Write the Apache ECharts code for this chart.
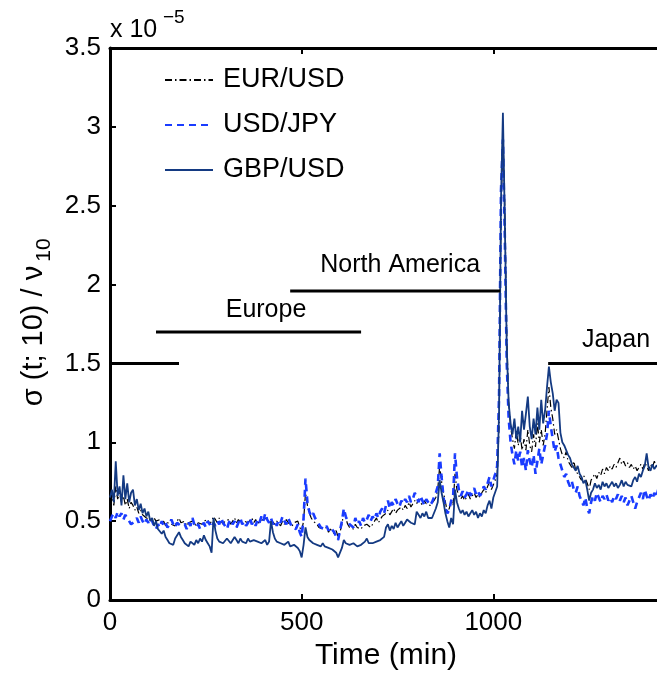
<!DOCTYPE html>
<html>
<head>
<meta charset="utf-8">
<script src="https://cdn.jsdelivr.net/npm/echarts@6/dist/echarts.min.js"></script>
<style>
html,body{margin:0;padding:0;background:#fff;}
#chart{width:657px;height:673px;}
</style>
</head>
<body>
<div id="chart"></div>
<script>
// ---- data (values in units of 1e-5) ----
const TIME_STEP = 5; // minutes between samples
const eurUsd = [
 0.62,0.66,0.60,0.72,0.64,0.68,0.62,0.66,0.60,0.64,0.58,0.62,
 0.60,0.57,0.59,0.55,0.57,0.54,0.55,0.52,0.53,0.51,0.50,0.52,
 0.50,0.49,0.51,0.48,0.50,0.47,0.49,0.50,0.48,0.49,0.47,0.50,
 0.52,0.49,0.48,0.50,0.47,0.49,0.48,0.50,0.49,0.47,0.49,0.50,
 0.48,0.50,0.49,0.51,0.48,0.50,0.53,0.51,0.49,0.52,0.50,0.48,
 0.50,0.49,0.51,0.48,0.50,0.52,0.49,0.51,0.50,0.48,0.50,0.51,
 0.49,0.50,0.52,0.49,0.51,0.48,0.50,0.49,0.51,0.50,0.52,0.49,
 0.51,0.50,0.48,0.50,0.49,0.47,0.50,0.48,0.51,0.49,0.48,0.47,
 0.49,0.48,0.50,0.46,0.44,0.50,0.68,0.60,0.55,0.52,0.50,0.49,
 0.48,0.46,0.47,0.45,0.44,0.46,0.43,0.45,0.44,0.42,0.44,0.40,
 0.43,0.48,0.56,0.52,0.48,0.46,0.47,0.45,0.48,0.46,0.47,0.45,
 0.47,0.46,0.48,0.47,0.46,0.48,0.50,0.52,0.49,0.51,0.53,0.52,
 0.55,0.57,0.54,0.56,0.58,0.55,0.57,0.56,0.59,0.57,0.60,0.58,
 0.62,0.59,0.60,0.63,0.61,0.64,0.62,0.60,0.63,0.61,0.62,0.60,
 0.61,0.63,0.65,0.70,0.85,0.75,0.68,0.62,0.56,0.58,0.63,0.60,
 0.80,0.70,0.66,0.64,0.66,0.63,0.65,0.67,0.64,0.66,0.68,0.65,
 0.67,0.65,0.68,0.70,0.68,0.72,0.75,0.70,0.73,0.76,0.80,1.10,
 2.40,2.95,2.50,1.70,1.25,1.10,1.02,0.96,1.08,0.98,1.05,0.95,
 1.02,0.95,1.08,0.98,0.94,1.05,0.97,1.12,1.00,1.08,0.98,1.05,
 1.20,1.35,1.22,1.15,1.05,1.08,1.02,0.96,0.92,0.90,0.94,0.88,
 0.86,0.84,0.88,0.82,0.80,0.78,0.76,0.79,0.77,0.74,0.70,0.76,
 0.78,0.80,0.77,0.81,0.79,0.83,0.80,0.84,0.82,0.85,0.83,0.86,
 0.84,0.87,0.90,0.86,0.88,0.85,0.87,0.84,0.86,0.83,0.85,0.82,
 0.84,0.86,0.83,0.87,0.85,0.82,0.86,0.84,0.88,0.85,0.83,0.86,
 0.85
];
const usdJpy = [
 0.50,0.53,0.55,0.52,0.56,0.53,0.55,0.51,0.54,0.52,0.50,0.48,
 0.47,0.50,0.52,0.49,0.53,0.50,0.48,0.51,0.49,0.52,0.50,0.47,
 0.45,0.48,0.46,0.50,0.47,0.49,0.46,0.48,0.51,0.48,0.46,0.49,
 0.50,0.47,0.46,0.48,0.45,0.49,0.47,0.52,0.48,0.46,0.48,0.45,
 0.47,0.49,0.46,0.50,0.48,0.46,0.49,0.47,0.50,0.48,0.52,0.49,
 0.47,0.45,0.49,0.51,0.48,0.50,0.46,0.49,0.52,0.48,0.50,0.47,
 0.49,0.52,0.48,0.50,0.47,0.51,0.49,0.53,0.50,0.55,0.51,0.49,
 0.52,0.48,0.50,0.47,0.51,0.49,0.53,0.50,0.48,0.52,0.49,0.46,
 0.47,0.45,0.48,0.43,0.40,0.52,0.77,0.62,0.56,0.53,0.55,0.52,
 0.50,0.48,0.46,0.47,0.45,0.47,0.44,0.46,0.45,0.43,0.40,0.38,
 0.44,0.50,0.58,0.53,0.50,0.48,0.49,0.46,0.52,0.48,0.50,0.47,
 0.52,0.49,0.51,0.54,0.50,0.53,0.51,0.55,0.52,0.56,0.58,0.55,
 0.60,0.63,0.58,0.62,0.60,0.64,0.61,0.59,0.63,0.61,0.64,0.62,
 0.66,0.62,0.64,0.68,0.65,0.62,0.66,0.63,0.60,0.64,0.62,0.60,
 0.62,0.65,0.68,0.72,0.93,0.78,0.65,0.58,0.55,0.57,0.63,0.65,
 0.93,0.78,0.70,0.66,0.69,0.65,0.67,0.70,0.66,0.68,0.71,0.67,
 0.69,0.66,0.68,0.72,0.70,0.74,0.78,0.72,0.76,0.80,0.85,1.30,
 2.60,2.92,2.30,1.50,1.15,1.00,0.92,0.86,0.95,0.88,0.94,0.84,
 0.90,0.82,0.95,0.88,0.84,0.92,0.80,0.88,0.96,0.86,0.92,0.98,
 1.05,1.20,1.10,1.02,0.94,0.98,0.90,0.86,0.82,0.78,0.80,0.75,
 0.72,0.75,0.70,0.68,0.72,0.66,0.63,0.60,0.65,0.58,0.55,0.62,
 0.66,0.63,0.68,0.65,0.62,0.66,0.64,0.67,0.63,0.65,0.62,0.66,
 0.64,0.67,0.63,0.66,0.62,0.65,0.60,0.63,0.66,0.62,0.58,0.62,
 0.65,0.68,0.64,0.70,0.66,0.63,0.67,0.64,0.68,0.65,0.70,0.66,
 0.67
];
const gbpUsd = [
 0.65,0.70,0.62,0.88,0.66,0.72,0.60,0.79,0.64,0.74,0.62,0.68,
 0.70,0.60,0.64,0.57,0.61,0.55,0.58,0.53,0.56,0.50,0.52,0.47,
 0.50,0.45,0.46,0.42,0.44,0.40,0.38,0.36,0.37,0.35,0.39,0.38,
 0.43,0.40,0.38,0.36,0.35,0.34,0.37,0.36,0.35,0.38,0.36,0.39,
 0.37,0.41,0.38,0.36,0.34,0.30,0.52,0.44,0.39,0.37,0.38,0.36,
 0.37,0.39,0.38,0.36,0.37,0.40,0.38,0.36,0.39,0.37,0.38,0.36,
 0.39,0.37,0.36,0.38,0.39,0.37,0.38,0.36,0.37,0.38,0.35,0.37,
 0.50,0.43,0.39,0.37,0.38,0.36,0.37,0.35,0.36,0.37,0.34,0.35,
 0.35,0.34,0.33,0.31,0.27,0.35,0.46,0.40,0.38,0.37,0.36,0.37,
 0.35,0.36,0.34,0.36,0.34,0.35,0.33,0.34,0.32,0.31,0.30,0.27,
 0.26,0.33,0.38,0.36,0.37,0.35,0.34,0.36,0.35,0.34,0.33,0.35,
 0.35,0.37,0.39,0.36,0.37,0.36,0.35,0.37,0.36,0.38,0.37,0.40,
 0.46,0.48,0.44,0.47,0.45,0.49,0.46,0.48,0.50,0.47,0.49,0.51,
 0.52,0.49,0.50,0.48,0.56,0.54,0.52,0.55,0.53,0.56,0.52,0.51,
 0.52,0.55,0.58,0.62,0.76,0.68,0.62,0.55,0.50,0.46,0.52,0.48,
 0.70,0.62,0.58,0.55,0.57,0.54,0.56,0.53,0.55,0.57,0.54,0.56,
 0.52,0.55,0.53,0.57,0.55,0.60,0.63,0.58,0.65,0.66,0.72,1.20,
 2.54,3.09,2.40,1.60,1.25,1.12,1.05,1.15,1.02,1.10,1.00,1.20,
 1.08,1.18,1.29,1.10,1.02,1.15,1.05,1.22,1.08,1.27,1.12,1.20,
 1.35,1.48,1.38,1.31,1.20,1.27,1.25,1.06,1.00,0.98,0.95,0.92,
 0.90,0.86,0.84,0.82,0.85,0.80,0.78,0.74,0.76,0.70,0.63,0.68,
 0.70,0.74,0.71,0.73,0.70,0.75,0.72,0.74,0.71,0.73,0.75,0.72,
 0.74,0.71,0.73,0.76,0.72,0.75,0.73,0.74,0.72,0.76,0.78,0.75,
 0.80,0.78,0.82,0.85,0.93,0.84,0.82,0.86,0.83,0.85,0.84,0.86,
 0.85
];
// trading sessions
const sessionNames = ['', 'Europe', 'North America', 'Japan'];
const sessionStart = [0, 120, 470, 1143];
const sessionEnd   = [180, 655, 1018, 1440];
const sessionLevel = [1.5, 1.7, 1.96, 1.5];
const sessionLabelTime  = [null, 407, 757, 1320];
const sessionLabelLevel = [null, 1.84, 2.125, 1.65];
// axis ticks
const xTicks = [0, 500, 1000];
const yTicks = [0, 0.5, 1, 1.5, 2, 2.5, 3, 3.5];

const FONT = 'Liberation Sans, Arial, Helvetica, sans-serif';
const pairs = arr => arr.map((v, i) => [i * TIME_STEP, v]);

const series = [
  {
    name: 'EUR/USD', type: 'line', data: pairs(eurUsd), symbol: 'none', z: 3,
    lineStyle: { color: '#000000', width: 1.2, type: [7, 3, 1.5, 3] },
    itemStyle: { color: '#000000' }
  },
  {
    name: 'USD/JPY', type: 'line', data: pairs(usdJpy), symbol: 'none', z: 4,
    lineStyle: { color: '#1a3cff', width: 2.6, type: [7, 5] },
    itemStyle: { color: '#1a3cff' }
  },
  {
    name: 'GBP/USD', type: 'line', data: pairs(gbpUsd), symbol: 'none', z: 5,
    lineStyle: { color: '#143a82', width: 1.8, type: 'solid' },
    itemStyle: { color: '#143a82' }
  }
];
sessionNames.forEach((n, i) => {
  series.push({
    type: 'line', symbol: 'none', silent: true, z: 6,
    data: [[sessionStart[i], sessionLevel[i]], [sessionEnd[i], sessionLevel[i]]],
    lineStyle: { color: '#000', width: 3 }
  });
});
series.push({
  type: 'scatter', symbolSize: 0, silent: true, z: 7,
  itemStyle: { opacity: 1 },
  data: sessionNames.map((n, i) => ({ value: [sessionLabelTime[i], sessionLabelLevel[i]], name: n }))
    .filter(d => d.name),
  label: {
    show: true, position: 'inside', formatter: p => p.name, opacity: 1,
    color: '#000', fontSize: 25, fontFamily: FONT
  }
});

const chart = echarts.init(document.getElementById('chart'), null, { renderer: 'canvas' });
chart.setOption({
  animation: false,
  backgroundColor: '#fff',
  grid: { left: 110, top: 48, bottom: 73, right: -5, containLabel: false, outerBoundsMode: 'none' },
  legend: {
    data: ['EUR/USD', 'USD/JPY', 'GBP/USD'],
    orient: 'vertical', left: 164, top: 65, padding: 0,
    itemWidth: 48, itemHeight: 1, itemGap: 15,
    itemStyle: { opacity: 0 },
    textStyle: { fontSize: 27, fontFamily: FONT, color: '#000', lineHeight: 30, padding: [0, 0, 0, 5] },
    selectedMode: false
  },
  xAxis: [
    {
      type: 'value', min: 0, max: 1440, interval: 500, position: 'bottom',
      axisLine: { show: true, onZero: false, lineStyle: { color: '#000', width: 3 } },
      axisTick: { show: true, inside: true, length: 6, lineStyle: { color: '#000', width: 2 }, customValues: xTicks },
      axisLabel: { fontSize: 26, fontFamily: FONT, color: '#000', margin: 10, customValues: xTicks,
        formatter: v => String(v) },
      splitLine: { show: false },
      name: 'Time (min)', nameLocation: 'middle', nameGap: 38,
      nameTextStyle: { fontSize: 30, fontFamily: FONT, color: '#000' }
    },
    {
      type: 'value', min: 0, max: 1440, interval: 500, position: 'top',
      axisLine: { show: true, onZero: false, lineStyle: { color: '#000', width: 3 } },
      axisTick: { show: true, inside: true, length: 6, lineStyle: { color: '#000', width: 2 }, customValues: xTicks },
      axisLabel: { show: false }, splitLine: { show: false }
    }
  ],
  yAxis: {
    type: 'value', min: 0, max: 3.5, interval: 0.5,
    axisLine: { show: true, onZero: false, lineStyle: { color: '#000', width: 3 } },
    axisTick: { show: true, inside: true, length: 6, lineStyle: { color: '#000', width: 2 }, customValues: yTicks },
    axisLabel: { fontSize: 26, fontFamily: FONT, color: '#000', margin: 9, customValues: yTicks },
    splitLine: { show: false }
  },
  graphic: [
    { type: 'text', left: 110, top: 18, style: { text: 'x 10', fontSize: 25, fontFamily: FONT, fill: '#000' } },
    { type: 'text', left: 163, top: 8, style: { text: '\u22125', fontSize: 19, fontFamily: FONT, fill: '#000' } },
    { type: 'text', x: 34, y: 336, rotation: Math.PI / 2,
      style: { text: '\u03c3 (t; 10) / \u03bd', fontSize: 29, fontFamily: FONT, fill: '#000',
        textAlign: 'center', textVerticalAlign: 'middle' } },
    { type: 'text', x: 44, y: 250, rotation: Math.PI / 2,
      style: { text: '10', fontSize: 21, fontFamily: FONT, fill: '#000',
        textAlign: 'center', textVerticalAlign: 'middle' } }
  ],
  series: series
});
</script>
</body>
</html>
